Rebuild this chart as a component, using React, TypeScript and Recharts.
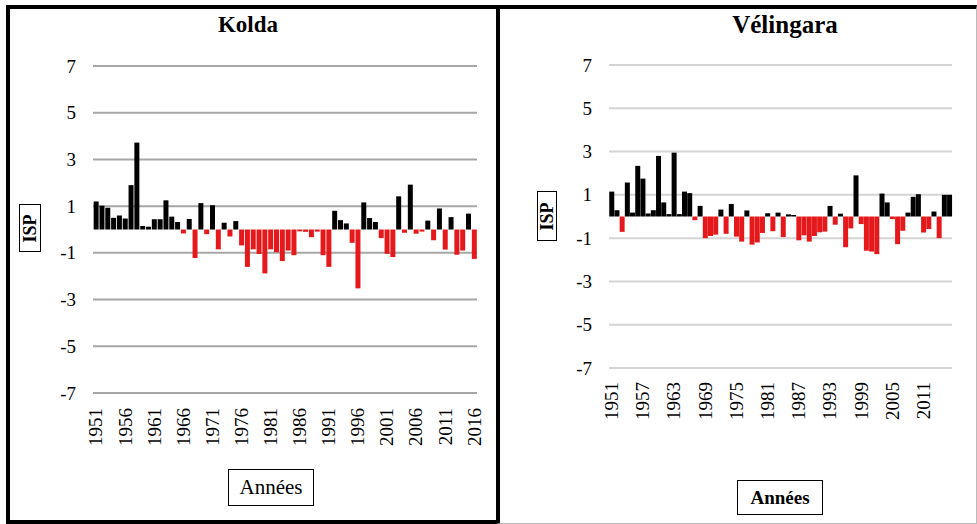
import React from 'react'
import { BarChart, Bar, Cell, XAxis, YAxis, CartesianGrid } from 'recharts'

// Indice standardisé des précipitations (ISP), 1951-2016
const annees = [
  1951, 1952, 1953, 1954, 1955, 1956, 1957, 1958, 1959, 1960,
  1961, 1962, 1963, 1964, 1965, 1966, 1967, 1968, 1969, 1970,
  1971, 1972, 1973, 1974, 1975, 1976, 1977, 1978, 1979, 1980,
  1981, 1982, 1983, 1984, 1985, 1986, 1987, 1988, 1989, 1990,
  1991, 1992, 1993, 1994, 1995, 1996, 1997, 1998, 1999, 2000,
  2001, 2002, 2003, 2004, 2005, 2006, 2007, 2008, 2009, 2010,
  2011, 2012, 2013, 2014, 2015, 2016,
]

const ispKolda = [
  1.2, 1.02, 0.93, 0.5, 0.6, 0.47, 1.9, 3.72, 0.15, 0.12,
  0.44, 0.44, 1.25, 0.55, 0.32, -0.17, 0.45, -1.22, 1.13, -0.2,
  1.04, -0.85, 0.29, -0.3, 0.36, -0.68, -1.6, -0.85, -1.05, -1.88,
  -0.85, -0.97, -1.35, -0.9, -1.1, -0.08, -0.1, -0.33, -0.09, -1.1,
  -1.6, 0.8, 0.4, 0.26, -0.57, -2.52, 1.16, 0.49, 0.32, -0.37,
  -1.04, -1.18, 1.42, -0.14, 1.92, -0.18, -0.09, 0.38, -0.46, 0.9,
  -0.86, 0.53, -1.08, -0.9, 0.68, -1.26,
]

const ispVelingara = [
  1.15, 0.29, -0.71, 1.57, 0.18, 2.34, 1.75, 0.14, 0.29, 2.8,
  0.65, 0.11, 2.95, 0.11, 1.15, 1.08, -0.17, 0.49, -1.0, -0.9,
  -0.84, 0.32, -0.8, 0.58, -0.93, -1.16, 0.28, -1.3, -1.2, -0.76,
  0.15, -0.68, 0.18, -0.95, 0.1, 0.07, -1.1, -0.87, -1.16, -0.9,
  -0.73, -0.7, 0.49, -0.38, 0.13, -1.42, -0.55, 1.9, -0.35, -1.58,
  -1.62, -1.74, 1.06, 0.65, -0.12, -1.28, -0.66, 0.18, 0.91, 1.03,
  -0.74, -0.58, 0.23, -1.0, 1.0, 1.0,
]

const graduations = [-7, -5, -3, -1, 1, 3, 5, 7]

const noir = '#000000'
const rouge = '#e5191c'
const police = '"Liberation Serif", "DejaVu Serif", "Noto Serif", Tinos, "Times New Roman", Times, serif'

const kolda = annees.map((an, i) => ({ annee: String(an), isp: ispKolda[i] }))
const velingara = annees.map((an, i) => ({ annee: String(an), isp: ispVelingara[i] }))

// étiquette d'année tournée à la verticale
function TickAnnee(props: any) {
  const { x, y, payload, decalage } = props
  const ty = y + decalage
  return (
    <text
      x={x}
      y={ty}
      transform={`rotate(-90, ${x}, ${ty})`}
      textAnchor="end"
      dominantBaseline="central"
      style={{ fontFamily: police }}
      fontSize={19}
      fill="#000"
    >
      {payload.value}
    </text>
  )
}

function TickIsp(props: any) {
  const { x, y, payload } = props
  return (
    <text x={x} y={y} textAnchor="end" dominantBaseline="central" style={{ fontFamily: police }} fontSize={19} fill="#000">
      {payload.value}
    </text>
  )
}

type PanneauProps = {
  donnees: { annee: string; isp: number }[]
  largeur: number
  hauteur: number
  marge: { top: number; right: number; left: number; bottom: number }
  largeurY: number
  hauteurX: number
  intervalle: number
  decalage: number
  grille: string
  ecart: string
}

function Panneau(p: PanneauProps) {
  return (
    <BarChart
      width={p.largeur}
      height={p.hauteur}
      data={p.donnees}
      margin={p.marge}
      barCategoryGap={p.ecart}
    >
      <CartesianGrid vertical={false} stroke={p.grille} strokeWidth={2} />
      <XAxis
        dataKey="annee"
        height={p.hauteurX}
        interval={p.intervalle}
        axisLine={false}
        tickLine={false}
        tick={<TickAnnee decalage={p.decalage} />}
      />
      <YAxis
        type="number"
        domain={[-7, 7]}
        ticks={graduations}
        width={p.largeurY}
        axisLine={false}
        tickLine={false}
        tickMargin={11}
        tick={<TickIsp />}
      />
      <Bar dataKey="isp" isAnimationActive={false}>
        {p.donnees.map((d, i) => (
          <Cell key={i} fill={d.isp < 0 ? rouge : noir} />
        ))}
      </Bar>
    </BarChart>
  )
}

const boite: React.CSSProperties = {
  position: 'absolute',
  border: '1.5px solid #000',
  fontFamily: police,
  color: '#000',
  display: 'flex',
  alignItems: 'center',
  justifyContent: 'center',
  boxSizing: 'border-box',
  background: '#fff',
}

export default function App() {
  return (
    <div style={{ position: 'relative', width: 977, height: 524, background: '#fff', overflow: 'hidden', fontFamily: police }}>
      <style>{'body { margin: 0; }'}</style>

      {/* cadre de Kolda */}
      <div style={{ position: 'absolute', left: 6, top: 5, width: 494, height: 519, border: '4px solid #000', boxSizing: 'border-box' }} />
      {/* cadre de Vélingara */}
      <div style={{ position: 'absolute', left: 496, top: 5, width: 481, height: 519, borderTop: '4px solid #000', borderLeft: '4px solid #000', borderRight: '1px solid #bbb', borderBottom: '1px solid #bbb', boxSizing: 'border-box' }} />

      <div style={{ position: 'absolute', left: 0, top: 0 }}>
        <Panneau
          donnees={kolda}
          largeur={500}
          hauteur={524}
          marge={{ top: 66, right: 23, left: 0, bottom: 0 }}
          largeurY={93}
          hauteurX={131}
          intervalle={4}
          decalage={7}
          grille="#a6a6a6"
          ecart="11%"
        />
      </div>
      <div style={{ position: 'absolute', left: 500, top: 0 }}>
        <Panneau
          donnees={velingara}
          largeur={477}
          hauteur={524}
          marge={{ top: 65, right: 25, left: 0, bottom: 0 }}
          largeurY={109}
          hauteurX={156}
          intervalle={5}
          decalage={6}
          grille="#d4d4d4"
          ecart="5%"
        />
      </div>

      {/* titres */}
      <div style={{ position: 'absolute', left: 148, top: 12, width: 200, textAlign: 'center', fontWeight: 'bold', fontSize: 23 }}>Kolda</div>
      <div style={{ position: 'absolute', left: 685, top: 11, width: 200, textAlign: 'center', fontWeight: 'bold', fontSize: 25 }}>Vélingara</div>

      {/* titres des axes Y */}
      <div style={{ ...boite, left: 19, top: 204, width: 22, height: 48, fontWeight: 'bold', fontSize: 18 }}>
        <span style={{ transform: 'rotate(-90deg)', whiteSpace: 'nowrap' }}>ISP</span>
      </div>
      <div style={{ ...boite, left: 537, top: 191, width: 20, height: 50, fontWeight: 'bold', fontSize: 18 }}>
        <span style={{ transform: 'rotate(-90deg)', whiteSpace: 'nowrap' }}>ISP</span>
      </div>

      {/* titres des axes X */}
      <div style={{ ...boite, left: 228, top: 469, width: 86, height: 37, fontSize: 21 }}>Années</div>
      <div style={{ ...boite, left: 737, top: 480, width: 86, height: 35, fontWeight: 'bold', fontSize: 19 }}>Années</div>
    </div>
  )
}
